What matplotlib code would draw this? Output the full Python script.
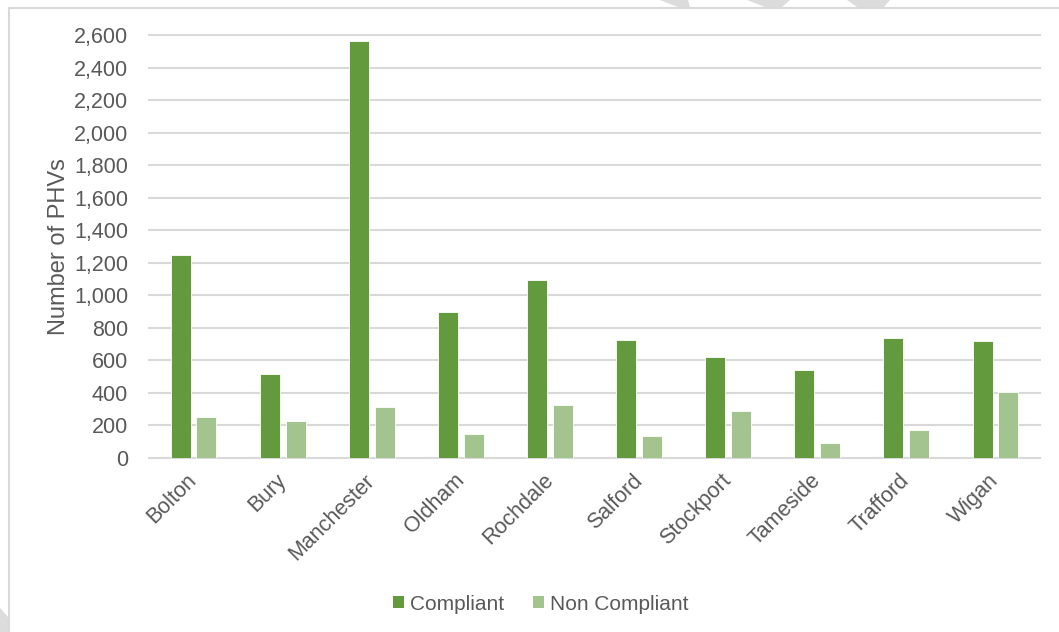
import matplotlib
matplotlib.use("Agg")
import matplotlib.pyplot as plt
from matplotlib.patches import Patch, Polygon
from matplotlib.lines import Line2D
from matplotlib.ticker import FuncFormatter, MultipleLocator
import numpy as np

categories = ["Bolton", "Bury", "Manchester", "Oldham", "Rochdale",
              "Salford", "Stockport", "Tameside", "Trafford", "Wigan"]
compliant = [1248, 516, 2565, 897, 1097, 727, 621, 543, 736, 717]
non_compliant = [250, 225, 311, 146, 324, 137, 287, 90, 172, 404]
series_names = ["Compliant", "Non Compliant"]

C1 = "#639a3e"
C2 = "#a4c48f"
TXT = "#595959"
GRID = "#d9d9d9"

plt.rcParams["font.family"] = ["Liberation Sans", "DejaVu Sans"]

W, H = 1059, 632
fig = plt.figure(figsize=(W / 100, H / 100), dpi=100)
fig.patch.set_facecolor("white")

def fx(px):
    return px / W

def fy(py):
    return 1 - py / H

ax = fig.add_axes([fx(149), fy(458), fx(1040) - fx(149), fy(35) - fy(458)])
ax.set_facecolor("none")

x = np.arange(len(categories))
bw = 0.225
off = 0.145
ax.bar(x - off, compliant, bw, color=C1, edgecolor="#ffffff", linewidth=0.6, zorder=3)
ax.bar(x + off, non_compliant, bw, color=C2, edgecolor="#ffffff", linewidth=0.6, zorder=3)

ax.set_xlim(-0.5, len(categories) - 0.5)
ax.set_ylim(0, 2600)
ax.yaxis.set_major_locator(MultipleLocator(200))
ax.yaxis.set_major_formatter(FuncFormatter(lambda v, p: f"{int(v):,}"))
ax.grid(axis="y", color=GRID, linewidth=1.5, zorder=0)
for gl in ax.get_ygridlines():
    gl.set_clip_on(False)
for s in ax.spines.values():
    s.set_visible(False)
ax.tick_params(axis="both", length=0, labelcolor=TXT)
ax.tick_params(axis="y", pad=15, labelsize=15.5)
ax.set_xticks(x)
ax.set_xticklabels(categories, rotation=45, ha="right", va="center",
                   rotation_mode="anchor")
ax.tick_params(axis="x", pad=14, labelsize=15.5)
ax.set_ylabel("Number of PHVs", fontsize=17, color=TXT, labelpad=3)

handles = [Patch(facecolor=C1, edgecolor="none"), Patch(facecolor=C2, edgecolor="none")]
leg = fig.legend(handles, series_names, loc="center", bbox_to_anchor=(fx(541), fy(604)),
                 ncol=2, frameon=False, fontsize=15, handlelength=0.5, handleheight=0.5,
                 handletextpad=0.3, columnspacing=1.4, labelcolor=TXT)

# chart frame
fig.add_artist(Line2D([fx(9), fx(9)], [fy(8), 0], color=GRID, linewidth=1.5))
fig.add_artist(Line2D([fx(9), 1], [fy(8), fy(8)], color=GRID, linewidth=1.5))

# faint watermark fragments
wm = "#dcdcdc"
for poly in [
    [(660, 0), (688, 0), (690, 7), (678, 7)],
    [(747, 0), (790, 0), (782, 7), (765, 7)],
    [(847, 0), (890, 0), (884, 7), (857, 7)],
    [(0, 608), (9, 618), (9, 632), (0, 632)],
]:
    fig.add_artist(Polygon([(fx(a), fy(b)) for a, b in poly], closed=True,
                           facecolor=wm, edgecolor="none", transform=fig.transFigure))

fig.savefig("out.png", dpi=100, facecolor="white")
